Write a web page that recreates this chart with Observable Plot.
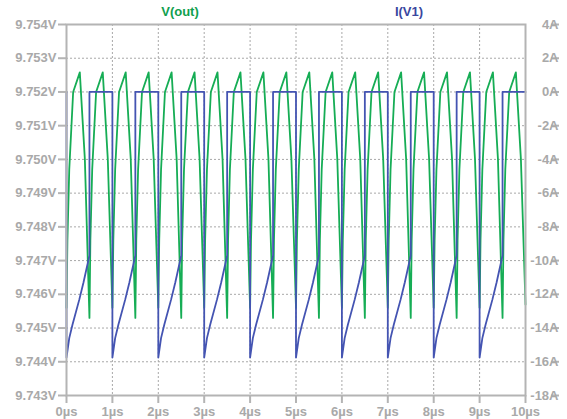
<!DOCTYPE html>
<html><head><meta charset="utf-8">
<script src="https://cdn.jsdelivr.net/npm/d3@7"></script>
<script src="https://cdn.jsdelivr.net/npm/@observablehq/plot@0.6"></script>
<style>
body{margin:0;background:#fff;}
#wrap{position:relative;width:567px;height:419px;font-family:"Liberation Sans",Arial,sans-serif;}
.ttl{position:absolute;top:4px;font-weight:bold;font-size:13px;line-height:15px;transform:translateX(-50%);white-space:nowrap;}
</style></head><body><div id="wrap"></div>
<script>
// Tick labels
const timeTicks = [0,1,2,3,4,5,6,7,8,9,10];            // µs
const voltTicks = [9.743,9.744,9.745,9.746,9.747,9.748,9.749,9.750,9.751,9.752,9.753,9.754]; // V
const currentTicks = [-18,-16,-14,-12,-10,-8,-6,-4,-2,0,2,4]; // A
const seriesNames = ["V(out)","I(V1)"];

// V(out) trace: time (µs) and voltage (V)
const vOutTimes = [
 0.00,0.02,0.06,0.145,0.29,0.40,
 0.50,0.52,0.56,0.645,0.79,0.90,
 1.00,1.02,1.06,1.145,1.29,1.40,
 1.50,1.52,1.56,1.645,1.79,1.90,
 2.00,2.02,2.06,2.145,2.29,2.40,
 2.50,2.52,2.56,2.645,2.79,2.90,
 3.00,3.02,3.06,3.145,3.29,3.40,
 3.50,3.52,3.56,3.645,3.79,3.90,
 4.00,4.02,4.06,4.145,4.29,4.40,
 4.50,4.52,4.56,4.645,4.79,4.90,
 5.00,5.02,5.06,5.145,5.29,5.40,
 5.50,5.52,5.56,5.645,5.79,5.90,
 6.00,6.02,6.06,6.145,6.29,6.40,
 6.50,6.52,6.56,6.645,6.79,6.90,
 7.00,7.02,7.06,7.145,7.29,7.40,
 7.50,7.52,7.56,7.645,7.79,7.90,
 8.00,8.02,8.06,8.145,8.29,8.40,
 8.50,8.52,8.56,8.645,8.79,8.90,
 9.00,9.02,9.06,9.145,9.29,9.40,
 9.50,9.52,9.56,9.645,9.79,9.90,
 10.00];
const vOutValues = [
 9.7456,9.7476,9.7497,9.7520,9.75258,9.7500,
 9.7453,9.7476,9.7497,9.7520,9.75258,9.7500,
 9.7456,9.7476,9.7497,9.7520,9.75258,9.7500,
 9.7453,9.7476,9.7497,9.7520,9.75258,9.7500,
 9.7456,9.7476,9.7497,9.7520,9.75258,9.7500,
 9.7453,9.7476,9.7497,9.7520,9.75258,9.7500,
 9.7456,9.7476,9.7497,9.7520,9.75258,9.7500,
 9.7453,9.7476,9.7497,9.7520,9.75258,9.7500,
 9.7456,9.7476,9.7497,9.7520,9.75258,9.7500,
 9.7453,9.7476,9.7497,9.7520,9.75258,9.7500,
 9.7456,9.7476,9.7497,9.7520,9.75258,9.7500,
 9.7453,9.7476,9.7497,9.7520,9.75258,9.7500,
 9.7456,9.7476,9.7497,9.7520,9.75258,9.7500,
 9.7453,9.7476,9.7497,9.7520,9.75258,9.7500,
 9.7456,9.7476,9.7497,9.7520,9.75258,9.7500,
 9.7453,9.7476,9.7497,9.7520,9.75258,9.7500,
 9.7456,9.7476,9.7497,9.7520,9.75258,9.7500,
 9.7453,9.7476,9.7497,9.7520,9.75258,9.7500,
 9.7456,9.7476,9.7497,9.7520,9.75258,9.7500,
 9.7453,9.7476,9.7497,9.7520,9.75258,9.7500,
 9.7457];

// I(V1) trace: time (µs) and current (A)
const iV1Times = [
 0,0,0.06,0.13,0.28,0.37,0.5,0.5,
 1,1,1.06,1.13,1.28,1.37,1.5,1.5,
 2,2,2.06,2.13,2.28,2.37,2.5,2.5,
 3,3,3.06,3.13,3.28,3.37,3.5,3.5,
 4,4,4.06,4.13,4.28,4.37,4.5,4.5,
 5,5,5.06,5.13,5.28,5.37,5.5,5.5,
 6,6,6.06,6.13,6.28,6.37,6.5,6.5,
 7,7,7.06,7.13,7.28,7.37,7.5,7.5,
 8,8,8.06,8.13,8.28,8.37,8.5,8.5,
 9,9,9.06,9.13,9.28,9.37,9.5,9.5,
 10];
const iV1Values = [
 0,-15.75,-14.6,-13.8,-12.3,-11.3,-9.7,0,
 0,-15.75,-14.6,-13.8,-12.3,-11.3,-9.7,0,
 0,-15.75,-14.6,-13.8,-12.3,-11.3,-9.7,0,
 0,-15.75,-14.6,-13.8,-12.3,-11.3,-9.7,0,
 0,-15.75,-14.6,-13.8,-12.3,-11.3,-9.7,0,
 0,-15.75,-14.6,-13.8,-12.3,-11.3,-9.7,0,
 0,-15.75,-14.6,-13.8,-12.3,-11.3,-9.7,0,
 0,-15.75,-14.6,-13.8,-12.3,-11.3,-9.7,0,
 0,-15.75,-14.6,-13.8,-12.3,-11.3,-9.7,0,
 0,-15.75,-14.6,-13.8,-12.3,-11.3,-9.7,0,
 0];

// Right axis (A) shares the left axis (V): 0 A ↔ 9.752 V, 2 A per 0.001 V
const ampZeroV = 9.752, ampsPerVolt = 2000;
const toV = a => ampZeroV + a / ampsPerVolt;

const vData = vOutTimes.map((t,i)=>({t, v: vOutValues[i]}));
const iData = iV1Times.map((t,i)=>({t, v: toV(iV1Values[i])}));

const green = "#16ad55", blue = "#4454b2";
const axisGray = "#b4b4b4", textGray = "#a9a9a9", gridGray = "#a8a8a8";

const chart = Plot.plot({
  width: 567, height: 419,
  marginLeft: 66, marginRight: 42, marginTop: 24, marginBottom: 24,
  style: {fontFamily: "'Liberation Sans', Arial, sans-serif", fontSize: "13px", fontWeight: "bold", background: "#fff", overflow: "visible"},
  x: {domain: [0, 10]},
  y: {domain: [voltTicks[0], voltTicks[voltTicks.length-1]]},
  marks: [
    Plot.gridX(timeTicks, {stroke: gridGray, strokeOpacity: 1, strokeWidth: 1, strokeDasharray: "2,2"}),
    Plot.gridY(voltTicks, {stroke: gridGray, strokeOpacity: 1, strokeWidth: 1, strokeDasharray: "2,2"}),
    Plot.line(vData, {x: "t", y: "v", stroke: green, strokeWidth: 1.8}),
    Plot.line(iData, {x: "t", y: "v", stroke: blue, strokeWidth: 1.8}),
    Plot.frame({stroke: axisGray, strokeWidth: 2}),
    Plot.axisX(timeTicks, {tickSize: 8, tickPadding: 3, tickFormat: d => d + "µs", stroke: axisGray, strokeWidth: 2, fill: textGray, label: null}),
    Plot.axisY(voltTicks, {anchor: "left", tickSize: 8, tickPadding: 2, tickFormat: d => d.toFixed(3) + "V", stroke: axisGray, strokeWidth: 2, fill: textGray, label: null}),
    Plot.axisY(currentTicks.map(toV), {anchor: "right", tickSize: 8, tickPadding: 0, textAnchor: "end", dx: 25,
      tickFormat: d => Math.round((d - ampZeroV) * ampsPerVolt) + "A", stroke: axisGray, strokeWidth: 2, fill: textGray, label: null})
  ]
});
const wrap = document.getElementById("wrap");
wrap.appendChild(chart);
const t1 = document.createElement("div");
t1.className = "ttl"; t1.style.left = "180px"; t1.style.color = "#10a04e"; t1.textContent = seriesNames[0];
const t2 = document.createElement("div");
t2.className = "ttl"; t2.style.left = "409px"; t2.style.color = "#3a479f"; t2.textContent = seriesNames[1];
wrap.appendChild(t1); wrap.appendChild(t2);
</script></body></html>
